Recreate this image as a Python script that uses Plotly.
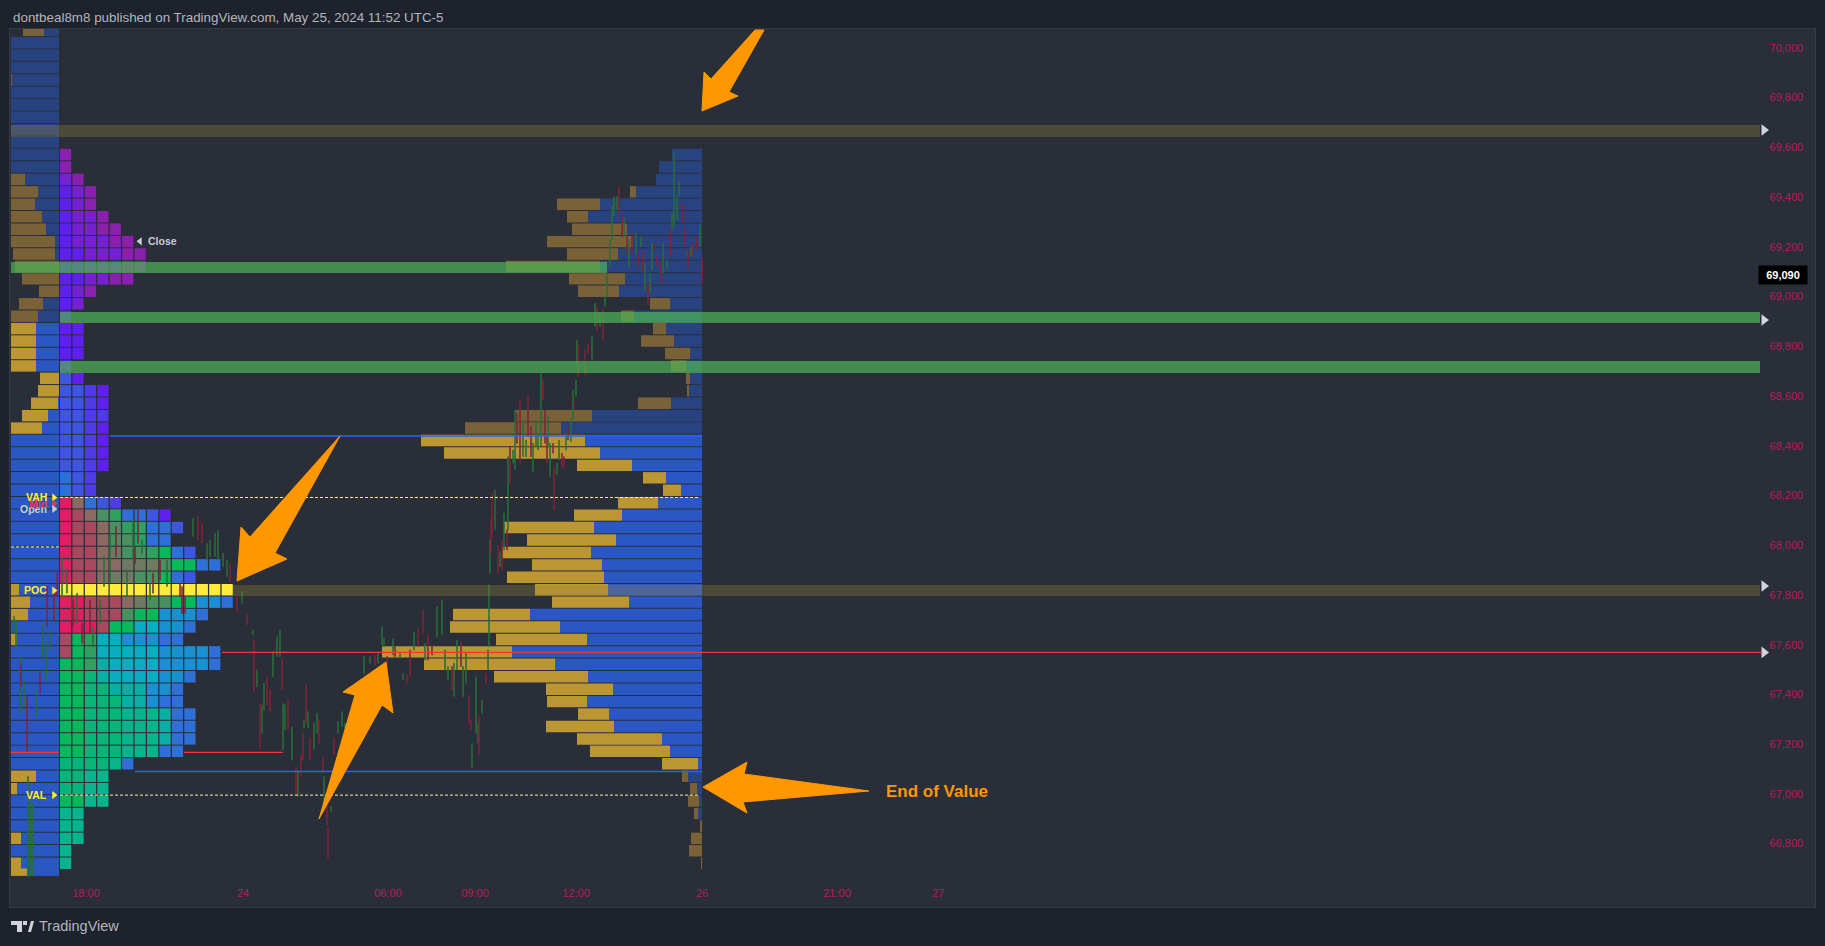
import plotly.graph_objects as go

BIN = 50
TOP_PRICE = 70046

# Left profile, one entry per 50-point price row from the top: gold part, blue part
left_gold = [21,0,0,0,1,0,0,0,0,0,0,0,14,27,24,31,35,44,42,44,37,20,24,27,25,25,25,25,19,21,27,26,31,
             0,0,0,0,0,0,0,0,0,0,0,0,8,19,17,0,6,0,0,0,0,0,0,0,0,0,0,25,6,0,0,0,10,0,10,16]
left_blue = [15,48,48,48,47,48,48,48,48,48,48,48,34,21,24,17,13,4,4,0,0,0,16,21,23,23,23,23,0,0,1,11,17,
             48,48,48,48,48,48,48,48,48,48,48,48,40,29,31,48,42,48,48,48,48,48,48,48,48,48,48,23,42,48,48,48,38,48,38,32]

# Right profile, rows 9 to 66 of the same ladder
right_start_row = 9
right_gold = [0,0,0,6,43,21,55,86,51,94,56,41,20,13,13,33,25,15,4,2,33,76,96,
              164,156,55,23,18,40,48,90,89,89,70,97,73,77,77,110,91,130,131,94,67,40,31,68,85,80,36,
              6,7,11,4,2,11,13,1]
right_blue = [30,43,46,66,102,114,75,69,84,102,77,83,32,68,36,28,12,16,12,13,31,110,141,
              117,102,70,36,21,44,80,108,86,111,100,98,94,73,172,142,115,190,147,114,89,115,93,88,40,32,4,
              14,5,3,4,0,0,0,0]

# Block profile: one colour letter per cell, rows 9 to 66
block_start_row = 9
block_rows = ["P","P","VP","IVP","IVP","IVVP","IVVPP","IVVVPP","IIVVVPP","IIVVVPP","IIVVPP","IVP","IV","I",
 "II","II","II","I","UI","UUBI","UUBI","UUBB","UUBI","UUBI","UUBI","UUBI","LUB","LUB",
 "RbLUB","RrbgeLLUI","RrrbgeeLLU","RrrbggeLL","RrrbdggeNLU","RrrbbdddgNNLL","RrrbddggNLU",
 "YYYYYYYYYYYYYY","RRrrrbdggNNCCL","RRrrrgNNCCCL","RRRrNNTTCCL","rNeTTCCCLL","rNeTTTTTCCCCL","NNeQTTTTCCCCL",
 "NNSQTTTTCCL","NNSSQQQCCL","NNSSSQQCLL","NNSSSGGGQLL","NNSSSGGGQLL","NNSSSGGGQLL","NNSSSGGGLL",
 "SSSSGL","SSGG","SSGG","NNGG","GG","GG","GG","G","G"]
block_colors = dict(R="#e01e63", r="#a84a5f", b="#8a6a62", d="#6f7a62", g="#4a9060", e="#2fa05e", N="#0ab85c",
                    S="#08b578", G="#08b48c", Q="#08b0a4", T="#0aaec0", C="#1a90d2", L="#2e70d8", U="#3d55e0",
                    B="#4f3ce8", I="#5f20ee", V="#7620d4", P="#8b20ae", Y="#ffeb3b")

# Price bars: position, high, low, direction
candle_x = [14,16,20,21,24,27,28,30,33,37,40,43,46,47,50,54,57,62,67,72,73,77,82,90,93,100,104,110,116,127,133,135,138,142,150,153,160,167,180,182,185,193,198,202,207,210,215,218,223,227,230,
 237,242,247,253,254,257,260,262,264,267,270,273,277,280,282,283,285,288,292,296,298,301,303,304,306,308,310,314,317,319,323,324,327,328,331,334,338,342,345,348,353,356,361,364,370,375,378,382,384,387,393,395,400,403,407,410,414,418,423,425,428,432,437,442,445,448,452,454,457,461,463,466,469,471,472,476,478,479,482,486,
 488,489,490,491,492,495,498,500,502,504,507,508,510,513,515,517,520,523,526,528,531,533,536,538,541,543,545,547,548,550,553,554,557,559,562,564,566,568,571,573,574,576,577,578,585,588,592,595,597,600,603,605,
 607,610,612,614,617,619,622,624,627,629,632,636,638,641,643,645,648,650,652,655,657,661,663,667,670,672,674,677,679,681,683,684,687,688,691,693,697,700,702]
candle_high = [67713,67700,67552,67525,67458,67391,67070,66963,66963,67418,67485,67686,67606,67834,67659,67820,67887,67954,67901,67793,67780,67807,67686,67780,67673,67780,67954,68048,68075,67901,68102,67994,68148,68021,67847,67887,67941,67941,67847,67834,67793,68108,68115,68088,68008,68021,68048,68061,67968,67941,67927,
 67793,67813,67726,67659,67619,67498,67364,67358,67445,67465,67418,67572,67632,67659,67545,67364,67358,67378,67270,67110,67096,67157,67244,67297,67438,67331,67224,67284,67324,67297,67143,67069,66949,66862,66949,67224,67290,67331,67284,67297,67284,67411,67445,67552,67552,67558,67565,67672,67625,67552,67625,67592,67565,67485,67478,67579,67652,67666,67739,67605,67639,67599,67753,67780,67579,67512,67512,67525,67619,67612,67512,67565,67398,67297,67203,67471,67284,67311,67378,67485,
 67579,67841,68021,68109,68209,68222,68001,67975,68021,68129,68062,68356,68397,68383,68544,68531,68584,68504,68423,68598,68477,68410,68504,68450,68691,68665,68544,68437,68517,68410,68410,68316,68330,68423,68370,68356,68450,68477,68504,68624,68571,68665,68826,68812,68786,68812,68839,68973,68960,68933,68953,69000,
 69094,69228,69362,69402,69402,69442,69322,69315,69241,69228,69255,69255,69174,69241,69181,69134,69054,69094,69215,69215,69161,69134,69215,69148,69268,69335,69576,69402,69462,69369,69369,69275,69181,69181,69201,69215,69241,69288,69154]
candle_low = [67646,67592,67324,67432,67351,67164,66668,66668,66668,67311,67405,67552,67458,67673,67579,67700,67793,67793,67807,67700,67673,67686,67606,67646,67592,67686,67834,67847,67954,67793,67941,67927,68008,67968,67780,67807,67860,67834,67793,67726,67726,68035,68021,68008,67941,67954,67954,67941,67914,67874,67854,
 67733,67766,67679,67639,67411,67431,67183,67244,67337,67358,67331,67471,67552,67552,67418,67177,67257,67257,67136,66996,66989,67069,67136,67264,67284,67264,67136,67177,67244,67203,67083,66949,66875,66741,66929,67157,67244,67270,67264,67217,67163,67378,67391,67485,67525,67518,67525,67599,67592,67491,67558,67552,67545,67458,67445,67471,67579,67592,67646,67538,67538,67558,67632,67639,67498,67458,67418,67391,67498,67512,67391,67445,67284,67257,67103,67244,67203,67157,67324,67445,
 67499,67593,67887,67968,68035,68062,67887,67914,67901,67981,67981,68062,68249,68330,68303,68410,68330,68356,68356,68437,68356,68296,68397,68383,68397,68584,68410,68330,68397,68276,68370,68142,68283,68343,68316,68310,68383,68423,68417,68504,68557,68598,68732,68678,68685,68772,68745,68879,68866,68879,68826,68960,
 69000,69121,69228,69322,69349,69335,69241,69241,69174,69121,69174,69174,69121,69201,69107,69027,68967,69014,69107,69188,69121,69054,69094,69107,69161,69268,69282,69308,69402,69362,69295,69201,69161,69114,69161,69161,69188,69201,69054]
candle_dir = ("gggrgrggggrggrgrrgggrgrrggggrggrrggrrgrrrgrrggggggr"
              "rgrgrgrggr" "rgggrggrgr" "grrgrgrggr" "rgrrgrgggr" "rgrggrgggr" "grggrrgrrg" "rrggggrggr" "ggrrgggrgr"
              "gggrrgrgrg" "rgrggrrggr" "rggggrrrgg" "rrggrrgrgg" "rggrrrggrg" "rg"
              "gggggrrgrg" "rgrgrgrggr" "rrggrggggr" "rrgrgrrgr")

# Axis ticks
price_ticks = [66800,67000,67200,67400,67600,67800,68000,68200,68400,68600,68800,69000,69200,69400,69600,69800,70000]
time_ticks = [86,243,388,475,576,702,837,938]
time_labels = ["18:00","24","06:00","09:00","12:00","26","21:00","27"]

# Key levels: upper price, lower price
band_olive_top = (69690, 69642)
band_green_1 = (69139, 69095)
band_green_2 = (68938, 68894)
band_green_3 = (68741, 68693)
band_poc = (67840, 67796)
level_vah = 68192
level_val = 66995
level_dash = 67993
level_red_1 = 67569
level_red_2 = 67167
level_blue_1 = 68439
level_blue_2 = 67090
last_price = 69090

# ---------- style and layout ----------
PAGE = "#1e222d"; PANE = "#2a2e39"; BORDER = "#363a45"
W, H = 1825, 946
PLOT_L, PLOT_R, PLOT_T, PLOT_B = 10, 1815, 29, 907
LEFT_EDGE, RIGHT_EDGE = 59, 702
DARK_BLUE, DARK_GOLD = "#294381", "#7a6238"
LIT_BLUE, LIT_GOLD = "#2b57c4", "#bb9632"

def row_price(k):
    return TOP_PRICE - BIN * k - BIN / 2

assert len(candle_x) == len(candle_high) == len(candle_low) == len(candle_dir)

fig = go.Figure()

def add_bars(y, left, width, colors, thick):
    fig.add_trace(go.Bar(orientation="h", y=y, x=width, base=left, width=thick,
                         marker=dict(color=colors, line=dict(width=0)),
                         hoverinfo="skip", showlegend=False))

# left profile (row index -1 is the clipped row at the very top; the last row is cut short)
LAST_ROW = len(left_gold) - 2
y, base, wid, col, thick = [], [], [], [], []
for i, (g, b) in enumerate(zip(left_gold, left_blue)):
    k = i - 1
    lit = k >= 23
    yc = row_price(k) + (14 if k == LAST_ROW else 0)
    tk = 30 if k == LAST_ROW else 46
    if g:
        y.append(yc); base.append(LEFT_EDGE - g - b); wid.append(g); thick.append(tk)
        col.append(LIT_GOLD if lit else DARK_GOLD)
    if b:
        y.append(yc); base.append(LEFT_EDGE - b); wid.append(b); thick.append(tk)
        col.append(LIT_BLUE if lit else DARK_BLUE)
add_bars(y, base, wid, col, thick)

# block profile
y, base, wid, col = [], [], [], []
for i, row in enumerate(block_rows):
    k = block_start_row + i
    for c, letter in enumerate(row):
        y.append(row_price(k)); base.append(60 + 12.43 * c); wid.append(11.2)
        col.append(block_colors[letter])
add_bars(y, base, wid, col, 46)

# right profile
y, base, wid, col = [], [], [], []
for i, (g, b) in enumerate(zip(right_gold, right_blue)):
    k = right_start_row + i
    lit = 32 <= k <= 58
    if g:
        y.append(row_price(k)); base.append(RIGHT_EDGE - g - b); wid.append(g)
        col.append(LIT_GOLD if lit else DARK_GOLD)
    if b:
        y.append(row_price(k)); base.append(RIGHT_EDGE - b); wid.append(b)
        col.append(LIT_BLUE if lit else DARK_BLUE)
add_bars(y, base, wid, col, 46)

# price bars
opens = [l if d == "g" else h for l, h, d in zip(candle_low, candle_high, candle_dir)]
closes = [h if d == "g" else l for l, h, d in zip(candle_low, candle_high, candle_dir)]
GREEN_BAR = "rgba(40,112,58,0.85)"; RED_BAR = "rgba(130,36,56,0.85)"
fig.add_trace(go.Candlestick(x=candle_x, open=opens, high=candle_high, low=candle_low, close=closes,
                             increasing=dict(line=dict(color=GREEN_BAR, width=1), fillcolor=GREEN_BAR),
                             decreasing=dict(line=dict(color=RED_BAR, width=1), fillcolor=RED_BAR),
                             whiskerwidth=0, hoverinfo="skip", showlegend=False))

shapes = []
def band(x0, x1, levels, color):
    shapes.append(dict(type="rect", xref="x", yref="y", x0=x0, x1=x1, y0=levels[1], y1=levels[0],
                       fillcolor=color, line=dict(width=0), layer="above"))
def hline(x0, x1, price, color, dash="solid", width=1.4):
    shapes.append(dict(type="line", xref="x", yref="y", x0=x0, x1=x1, y0=price, y1=price,
                       line=dict(color=color, width=width, dash=dash), layer="above"))

OLIVE = "rgba(152,139,60,0.30)"; GREEN = "rgba(78,178,84,0.72)"
band(11, 1760, band_olive_top, OLIVE)
band(11, 607, band_green_1, GREEN)
band(60, 1760, band_green_2, GREEN)
band(60, 1760, band_green_3, GREEN)
band(233, 1760, band_poc, OLIVE)
DOT = "#fff59d"
hline(60, 698, level_vah, DOT, "3px,2px", 1)
hline(11, 59, level_dash, DOT, "3px,2px", 1)
hline(60, 698, level_val, DOT, "3px,2px", 1)
RED = "#f5382f"; BLUE = "#2962ff"
hline(222, 1762, level_red_1, RED)
hline(11, 59, level_red_2, RED)
hline(184, 283, level_red_2, RED)
hline(135, 702, level_blue_2, BLUE)
hline(110, 702, level_blue_1, BLUE)

# hand-drawn annotations, given in page pixels
def fx(x):
    return (x - PLOT_L) / (PLOT_R - PLOT_L)
def fy(yy):
    return 1 - (yy - PLOT_T) / (PLOT_B - PLOT_T)
def px_path(points):
    out = []
    for i, (x, yy) in enumerate(points):
        out.append(("M" if i == 0 else "L") + f"{fx(x):.5f},{fy(yy):.5f}")
    return " ".join(out) + " Z"

ORANGE = "#ff9800"
for pts in [
    [(755,30),(764,30),(729,92),(738,96),(702,111),(704,72),(711,79)],
    [(340,436),(275,553),(287,559),(237,581),(241,527),(250,537)],
    [(386,662),(393,713),(382,705),(319,819),(355,695),(343,692)],
    [(703,787),(747,762),(744,774),(869,791),(743,802),(747,813)],
]:
    shapes.append(dict(type="path", xref="paper", yref="paper", path=px_path(pts),
                       fillcolor=ORANGE, line=dict(color=ORANGE, width=1), layer="above"))

# TradingView logo outside the pane
LOGO = "#d1d4dc"
for pts in [
    [(11,921),(22,921),(22,932),(17,932),(17,925),(11,925)],
    [(28,932),(31,921),(34,921),(31,932)],
    [(23,921),(27,921),(27,925),(23,925)],
]:
    shapes.append(dict(type="path", xref="paper", yref="paper", path=px_path(pts),
                       fillcolor=LOGO, line=dict(width=0), layer="above"))

# level markers
fig.add_trace(go.Scatter(x=[1764,1764,1764,1764], y=[69670,68906,67836,67569], mode="markers",
                         marker=dict(symbol="triangle-right", size=10, color="#d1d4dc", line=dict(width=0)),
                         hoverinfo="skip", showlegend=False))
YEL = "#ffeb3b"
fig.add_trace(go.Scatter(x=[54,54,54,54,54], y=[68192,68167,68146,67818,66995], mode="markers",
                         marker=dict(symbol="triangle-right", size=7, color=[YEL,"#f23645","#c8ccd6",YEL,YEL], line=dict(width=0)),
                         hoverinfo="skip", showlegend=False))
fig.add_trace(go.Scatter(x=[140], y=[69222], mode="markers",
                         marker=dict(symbol="triangle-left", size=7, color="#c8ccd6", line=dict(width=0)),
                         hoverinfo="skip", showlegend=False))

UI = "Liberation Sans"
ann = []
def label(x, price, text, color, anchor="right", size=10.5, bold=True):
    ann.append(dict(x=x, y=price, xref="x", yref="y", text=f"<b>{text}</b>" if bold else text, showarrow=False,
                    xanchor=anchor, yanchor="middle", font=dict(family=UI, size=size, color=color)))
label(49, 68146, "Open", "#c8ccd6")
label(49, 68167, "Mid", "#f23645")
label(49, 68192, "VAH", YEL)
label(49, 67818, "POC", YEL)
label(49, 66995, "VAL", YEL)
label(146, 69222, "Close", "#c8ccd6", "left")
label(884, 67011, "End of Value", ORANGE, "left", 17)
ann.append(dict(x=1783, y=last_price, xref="x", yref="y", text="<b>69,090</b>", showarrow=False, bgcolor="#000000",
                width=46, height=16, yshift=-1, font=dict(family=UI, size=11, color="#ffffff")))
def page_text(x, yy, text, size, color):
    ann.append(dict(x=fx(x), y=fy(yy), xref="paper", yref="paper", text=text, showarrow=False, xanchor="left",
                    yanchor="middle", font=dict(family=UI, size=size, color=color)))
page_text(11, 17, "dontbeal8m8 published on TradingView.com, May 25, 2024 11:52 UTC-5", 13.4, "#b2b5be")
page_text(37, 926, "TradingView", 14.5, "#b2b5be")

TICK = "#b81c58"
fig.update_layout(
    width=W, height=H, autosize=False,
    margin=dict(l=PLOT_L, r=W - PLOT_R, t=PLOT_T, b=H - PLOT_B, pad=0),
    paper_bgcolor=PAGE, plot_bgcolor=PANE, barmode="overlay", showlegend=False,
    font=dict(family=UI, size=11, color="#b2b5be"),
    shapes=shapes, annotations=ann,
    xaxis=dict(range=[PLOT_L, PLOT_R], tickmode="array", tickvals=time_ticks, ticktext=time_labels,
               ticklabelposition="inside", ticks="inside", ticklen=7, tickcolor="rgba(0,0,0,0)",
               tickfont=dict(family=UI, size=11, color=TICK), showgrid=False, zeroline=False,
               showline=True, linecolor=BORDER, mirror=True, fixedrange=True, rangeslider=dict(visible=False)),
    yaxis=dict(range=[66545, 70076], side="right", tickmode="array", tickvals=price_ticks, tickformat=",d",
               ticklabelposition="inside", ticks="inside", ticklen=11, tickcolor="rgba(0,0,0,0)",
               tickfont=dict(family=UI, size=11, color=TICK), showgrid=False, zeroline=False,
               showline=True, linecolor=BORDER, mirror=True, fixedrange=True),
)

fig.write_html("out.html", config=dict(displayModeBar=False), post_script="document.body.style.margin='0';document.documentElement.style.overflow='hidden';")
